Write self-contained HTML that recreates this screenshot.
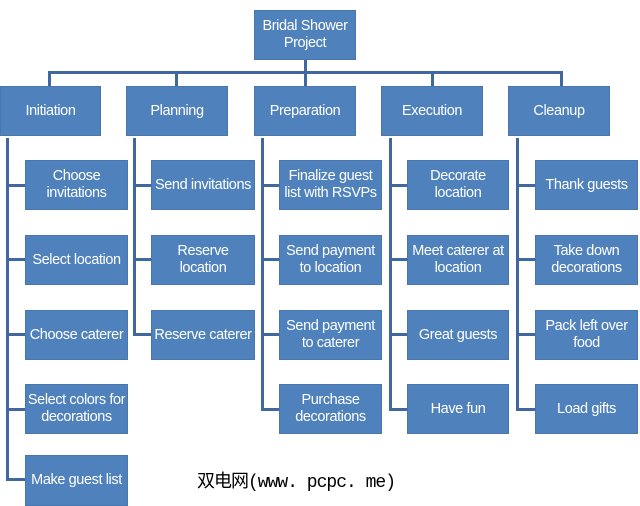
<!DOCTYPE html>
<html><head><style>
body{margin:0;width:640px;height:506px;background:#fff;position:relative;overflow:hidden;font-family:"Liberation Sans",sans-serif}
.b{position:absolute;background:#4f81bd;border:1px solid #4a76b0;color:#fff;font-size:14.5px;line-height:17px;display:flex;align-items:center;justify-content:center;text-align:center;box-sizing:border-box;white-space:nowrap;letter-spacing:-0.4px;overflow:hidden}
.l{position:absolute;background:#41689e}
.w{position:absolute;left:197px;top:467px;font-size:18px;color:#000;font-family:"Liberation Mono","Noto Sans CJK SC",monospace;letter-spacing:-1px}
</style></head><body>
<div class="b" style="left:254px;top:10px;width:102px;height:50px">Bridal Shower<br>Project</div>
<div class="l" style="left:304px;top:60px;width:3px;height:13px"></div>
<div class="l" style="left:48px;top:71px;width:515px;height:3px"></div>
<div class="l" style="left:48px;top:71px;width:3px;height:15px"></div>
<div class="l" style="left:175px;top:71px;width:3px;height:15px"></div>
<div class="l" style="left:304px;top:71px;width:3px;height:15px"></div>
<div class="l" style="left:431px;top:71px;width:3px;height:15px"></div>
<div class="l" style="left:560px;top:71px;width:3px;height:15px"></div>

<div class="b" style="left:0;top:86px;width:101px;height:50px">Initiation</div>
<div class="b" style="left:126px;top:86px;width:102px;height:50px">Planning</div>
<div class="b" style="left:254px;top:86px;width:102px;height:50px">Preparation</div>
<div class="b" style="left:381px;top:86px;width:102px;height:50px">Execution</div>
<div class="b" style="left:508px;top:86px;width:102px;height:50px">Cleanup</div>

<div class="l" style="left:6px;top:138px;width:3px;height:343px"></div>
<div class="l" style="left:6px;top:184px;width:19px;height:3px"></div>
<div class="l" style="left:6px;top:258px;width:19px;height:3px"></div>
<div class="l" style="left:6px;top:333px;width:19px;height:3px"></div>
<div class="l" style="left:6px;top:408px;width:19px;height:3px"></div>
<div class="l" style="left:6px;top:478px;width:19px;height:3px"></div>
<div class="b" style="left:25px;top:160px;width:103px;height:50px">Choose<br>invitations</div>
<div class="b" style="left:25px;top:235px;width:103px;height:50px">Select location</div>
<div class="b" style="left:25px;top:310px;width:103px;height:50px">Choose caterer</div>
<div class="b" style="left:25px;top:384px;width:103px;height:50px">Select colors for<br>decorations</div>
<div class="b" style="left:25px;top:455px;width:103px;height:51px">Make guest list</div>

<div class="l" style="left:133px;top:138px;width:3px;height:198px"></div>
<div class="l" style="left:133px;top:184px;width:19px;height:3px"></div>
<div class="l" style="left:133px;top:258px;width:19px;height:3px"></div>
<div class="l" style="left:133px;top:333px;width:19px;height:3px"></div>
<div class="b" style="left:151px;top:160px;width:104px;height:50px">Send invitations</div>
<div class="b" style="left:151px;top:235px;width:104px;height:50px">Reserve<br>location</div>
<div class="b" style="left:151px;top:310px;width:104px;height:50px">Reserve caterer</div>

<div class="l" style="left:261px;top:138px;width:3px;height:273px"></div>
<div class="l" style="left:261px;top:184px;width:19px;height:3px"></div>
<div class="l" style="left:261px;top:258px;width:19px;height:3px"></div>
<div class="l" style="left:261px;top:333px;width:19px;height:3px"></div>
<div class="l" style="left:261px;top:408px;width:19px;height:3px"></div>
<div class="b" style="left:279px;top:160px;width:103px;height:50px">Finalize guest<br>list with RSVPs</div>
<div class="b" style="left:279px;top:235px;width:103px;height:50px">Send payment<br>to location</div>
<div class="b" style="left:279px;top:310px;width:103px;height:50px">Send payment<br>to caterer</div>
<div class="b" style="left:279px;top:384px;width:103px;height:50px">Purchase<br>decorations</div>

<div class="l" style="left:389px;top:138px;width:3px;height:273px"></div>
<div class="l" style="left:389px;top:184px;width:19px;height:3px"></div>
<div class="l" style="left:389px;top:258px;width:19px;height:3px"></div>
<div class="l" style="left:389px;top:333px;width:19px;height:3px"></div>
<div class="l" style="left:389px;top:408px;width:19px;height:3px"></div>
<div class="b" style="left:407px;top:160px;width:102px;height:50px">Decorate<br>location</div>
<div class="b" style="left:407px;top:235px;width:102px;height:50px">Meet caterer at<br>location</div>
<div class="b" style="left:407px;top:310px;width:102px;height:50px">Great guests</div>
<div class="b" style="left:407px;top:384px;width:102px;height:50px">Have fun</div>

<div class="l" style="left:516px;top:138px;width:3px;height:273px"></div>
<div class="l" style="left:516px;top:184px;width:19px;height:3px"></div>
<div class="l" style="left:516px;top:258px;width:19px;height:3px"></div>
<div class="l" style="left:516px;top:333px;width:19px;height:3px"></div>
<div class="l" style="left:516px;top:408px;width:19px;height:3px"></div>
<div class="b" style="left:535px;top:160px;width:103px;height:50px">Thank guests</div>
<div class="b" style="left:535px;top:235px;width:103px;height:50px">Take down<br>decorations</div>
<div class="b" style="left:535px;top:310px;width:103px;height:50px">Pack left over<br>food</div>
<div class="b" style="left:535px;top:384px;width:103px;height:50px">Load gifts</div>

<div class="w">双电网(www. pcpc. me)</div>
</body></html>
